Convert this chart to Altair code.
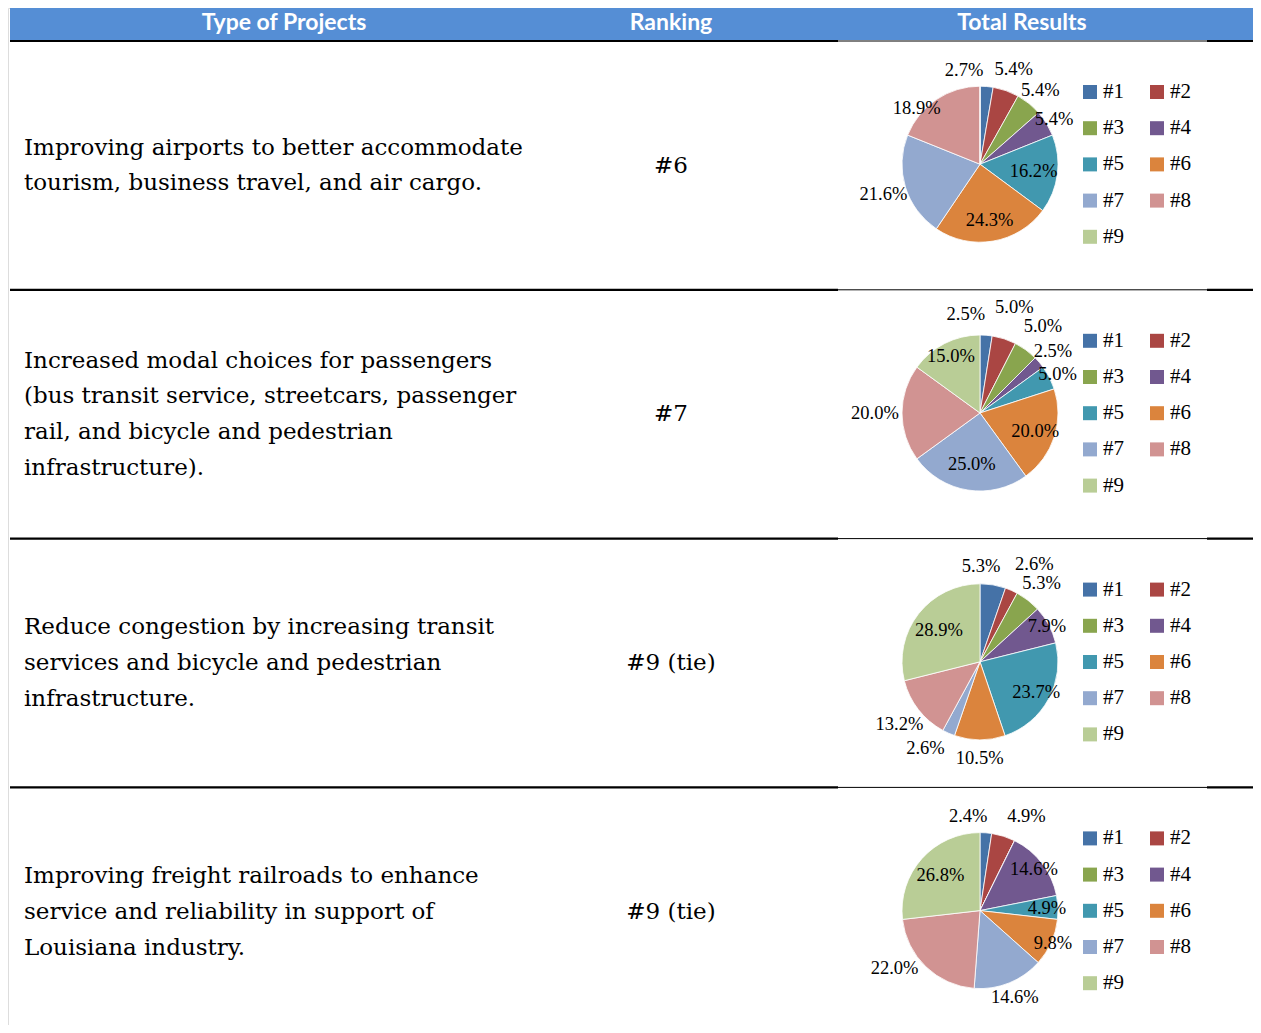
import altair as alt
import pandas as pd

# ---------------- data ----------------
HEADERS = ["Type of Projects", "Ranking", "Total Results"]
PROJECT_LINES = [
    ["Improving airports to better accommodate",
     "tourism, business travel, and air cargo."],
    ["Increased modal choices for passengers",
     "(bus transit service, streetcars, passenger",
     "rail, and bicycle and pedestrian",
     "infrastructure)."],
    ["Reduce congestion by increasing transit",
     "services and bicycle and pedestrian",
     "infrastructure."],
    ["Improving freight railroads to enhance",
     "service and reliability in support of",
     "Louisiana industry."],
]
RANKINGS = ["#6", "#7", "#9 (tie)", "#9 (tie)"]
CATEGORIES = ["#1", "#2", "#3", "#4", "#5", "#6", "#7", "#8", "#9"]
SHARES = [
    [2.7, 5.4, 5.4, 5.4, 16.2, 24.3, 21.6, 18.9, 0.0],
    [2.5, 5.0, 5.0, 2.5, 5.0, 20.0, 25.0, 20.0, 15.0],
    [5.3, 2.6, 5.3, 7.9, 23.7, 10.5, 2.6, 13.2, 28.9],
    [2.4, 4.9, 0.0, 14.6, 4.9, 9.8, 14.6, 22.0, 26.8],
]
COLORS = ["#4572A7", "#AA4643", "#89A54E", "#71588F", "#4198AF",
          "#DB843D", "#93A9CF", "#D19392", "#B9CD96"]

# ---------------- layout / style (chart pixels) ----------------
W, H = 1245, 1017
ROW_PITCH = 248.8
ROW0_CENTER = 157.5
TEXT_X = 16
RANK_X = 663
LINE_SPACING = 35.8
PIE_X = 972
PIE_Y0 = 156.2
PIE_R = 78
LEGEND_X = 1082
LEGEND_DX = 67
LEGEND_Y0 = 84
LEGEND_DY = 36.2
# label distance from pie centre (Excel "best fit" placement)
LABEL_RADII = [
    [95, 101, 96, 87, 54, 57, 101, 88, 0],
    [99, 111, 107, 96, 87, 58, 52, 105, 64],
    [97, 110, 100, 76, 64, 96, 103, 102, 52],
    [95, 105, 0, 68, 67, 80, 93, 103, 53],
]
# pixel nudges Excel applied to some labels: (pie, slice) -> (dx, dy)
LABEL_NUDGE = {
    (0, 0): (-24, 0), (0, 7): (-14, 17),
    (1, 0): (-22, 0),
    (2, 0): (-15, 0), (2, 1): (10, 3), (2, 6): (-13, -8),
    (3, 0): (-19, 0), (3, 1): (15, 6), (3, 7): (-14, -17),
}
BODY_FONT = "DejaVu Serif"
LABEL_FONT = "Liberation Serif"
HEAD_FONT = "Lato"
HEADER_BLUE = "#558ED5"

color_scale = alt.Scale(domain=CATEGORIES, range=COLORS)
X_ID = dict(scale=None, axis=None)

layers = []

# header band
layers.append(
    alt.Chart(pd.DataFrame({"a": [0]})).mark_rect(color=HEADER_BLUE).encode(
        x=alt.value(2), x2=alt.value(W), y=alt.value(0), y2=alt.value(32)
    )
)
head_df = pd.DataFrame({"t": HEADERS, "x": [276, 663, 1014], "y": [15, 15, 15]})
layers.append(
    alt.Chart(head_df).mark_text(font=HEAD_FONT, fontSize=23, fontWeight="bold",
                                 color="white", baseline="middle", align="center").encode(
        x=alt.X("x:Q", **X_ID), y=alt.Y("y:Q", **X_ID), text="t:N")
)

# separator lines
sep_y = [33 + k * ROW_PITCH for k in range(4)]
thick = pd.DataFrame({"x1": [2, 1199] * 4, "x2": [830, W] * 4,
                      "y": [y for y in sep_y for _ in range(2)]})
thin = pd.DataFrame({"x1": [830] * 4, "x2": [1199] * 4, "y": sep_y})
layers.append(alt.Chart(thick).mark_rule(color="black", strokeWidth=2.2).encode(
    x=alt.X("x1:Q", **X_ID), x2="x2:Q", y=alt.Y("y:Q", **X_ID)))
layers.append(alt.Chart(thin).mark_rule(color="black", strokeWidth=1).encode(
    x=alt.X("x1:Q", **X_ID), x2="x2:Q", y=alt.Y("y:Q", **X_ID)))

# project text
rows = []
for k, lines in enumerate(PROJECT_LINES):
    c = ROW0_CENTER + k * ROW_PITCH
    n = len(lines)
    for i, t in enumerate(lines):
        rows.append({"t": t, "x": TEXT_X, "y": c + (i - (n - 1) / 2) * LINE_SPACING})
layers.append(alt.Chart(pd.DataFrame(rows)).mark_text(
    font=BODY_FONT, fontSize=23, align="left", baseline="middle", color="black").encode(
    x=alt.X("x:Q", **X_ID), y=alt.Y("y:Q", **X_ID), text="t:N"))

# rankings
rank_df = pd.DataFrame({"t": RANKINGS, "x": [RANK_X] * 4,
                        "y": [ROW0_CENTER + k * ROW_PITCH for k in range(4)]})
layers.append(alt.Chart(rank_df).mark_text(
    font=BODY_FONT, fontSize=23, align="center", baseline="middle", color="black").encode(
    x=alt.X("x:Q", **X_ID), y=alt.Y("y:Q", **X_ID), text="t:N"))

# pies
pies = []
for k in range(4):
    vals = SHARES[k]
    total = sum(vals)
    df = pd.DataFrame({"cat": CATEGORIES, "v": vals, "idx": list(range(9)),
                       "lr": LABEL_RADII[k],
                       "label": [f"{v:.1f}%" for v in vals]})
    df["mid"] = df["v"].cumsum() - df["v"] / 2
    cy = PIE_Y0 + k * ROW_PITCH
    tscale = alt.Scale(domain=[0, total])
    arc = alt.Chart(df).mark_arc(radius=PIE_R, stroke="white", strokeWidth=0.8).encode(
        theta=alt.Theta("v:Q", stack=True, scale=tscale),
        order=alt.Order("idx:Q"),
        color=alt.Color("cat:N", scale=color_scale, legend=None),
        x=alt.value(PIE_X), y=alt.value(cy))
    parts = [arc]
    lab = df[df["v"] > 0]
    nudged = [i for (kk, i) in LABEL_NUDGE if kk == k]
    plain = lab[~lab["idx"].isin(nudged)]
    groups = [(plain, 0, 0)] + [
        (lab[lab["idx"] == i], LABEL_NUDGE[(k, i)][0], LABEL_NUDGE[(k, i)][1])
        for i in nudged]
    for sub, dx, dy in groups:
        if len(sub) == 0:
            continue
        parts.append(alt.Chart(sub).mark_text(
            font=LABEL_FONT, fontSize=18.5, color="black", dx=dx, dy=dy).encode(
            theta=alt.Theta("mid:Q", stack=None, scale=tscale),
            radius=alt.Radius("lr:Q", scale=None),
            text="label:N", x=alt.value(PIE_X), y=alt.value(cy)))
    pies.append(alt.layer(*parts))

# legends
leg = []
for k in range(4):
    for i, c in enumerate(CATEGORIES):
        leg.append({"cat": c,
                    "x": LEGEND_X + (i % 2) * LEGEND_DX,
                    "y": LEGEND_Y0 + k * ROW_PITCH + (i // 2) * LEGEND_DY})
leg_df = pd.DataFrame(leg)
leg_df["tx"] = leg_df["x"] + 13
layers.append(alt.Chart(leg_df).mark_square(size=196, opacity=1).encode(
    x=alt.X("x:Q", **X_ID), y=alt.Y("y:Q", **X_ID),
    color=alt.Color("cat:N", scale=color_scale, legend=None)))
layers.append(alt.Chart(leg_df).mark_text(
    font=LABEL_FONT, fontSize=21, align="left", baseline="middle", color="black").encode(
    x=alt.X("tx:Q", **X_ID), y=alt.Y("y:Q", **X_ID), text="cat:N"))

chart = alt.layer(*layers, *pies).resolve_scale(theta="independent").properties(
    width=W, height=H, padding=0,
    autosize=alt.AutoSizeParams(type="none"),
).configure_view(stroke=None).configure(background="white")

chart.save("out.html", embed_options={"renderer": "svg", "actions": False})
